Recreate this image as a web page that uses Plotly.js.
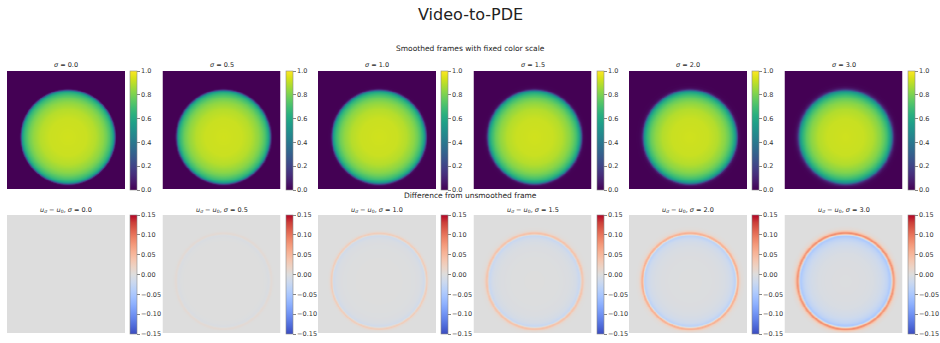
<!DOCTYPE html>
<html>
<head>
<meta charset="utf-8">
<script src="https://cdn.plot.ly/plotly-3.0.1.min.js"></script>
<style>
  html, body { margin: 0; padding: 0; background: #ffffff; }
  #fig { width: 940px; height: 343px; }
</style>
</head>
<body>
<div id="fig"></div>
<script>
// Smoothing widths shown in each column
const sigmas = [0.0, 0.5, 1.0, 1.5, 2.0, 3.0];

// Radial samples (frame pixels from the disk centre) used for the profiles below
const radiusPx = [0, 20, 30, 38, 42, 45, 47, 48, 49, 50, 51, 52, 53, 54, 56, 60];

// Intensity of the unsmoothed frame along the radius
const frameProfile = [0.93, 0.92, 0.89, 0.83, 0.78, 0.72, 0.67, 0.63, 0.57, 0.45, 0.22, 0.04, 0, 0, 0, 0];

// u_sigma - u_0 along the radius, one array per sigma
const diffSigma00 = [0, 0, 0, 0, 0, 0, 0, 0, 0, 0, 0, 0, 0, 0, 0, 0];
const diffSigma05 = [0, 0, 0, 0, 0, -0.001, -0.002, -0.003, -0.005, -0.002, 0.005, 0.008, 0.004, 0.001, 0, 0];
const diffSigma10 = [0, 0, -0.001, -0.002, -0.003, -0.005, -0.008, -0.011, -0.014, -0.004, 0.018, 0.028, 0.014, 0.004, 0, 0];
const diffSigma15 = [0, -0.001, -0.002, -0.004, -0.007, -0.01, -0.015, -0.02, -0.023, -0.008, 0.028, 0.042, 0.028, 0.01, 0.002, 0];
const diffSigma20 = [-0.001, -0.002, -0.003, -0.007, -0.011, -0.016, -0.023, -0.029, -0.032, -0.012, 0.038, 0.058, 0.043, 0.018, 0.004, 0];
const diffSigma30 = [-0.002, -0.003, -0.006, -0.013, -0.02, -0.028, -0.038, -0.046, -0.045, -0.012, 0.05, 0.085, 0.07, 0.035, 0.008, 0];
const diffProfiles = [diffSigma00, diffSigma05, diffSigma10, diffSigma15, diffSigma20, diffSigma30];

// Colour-bar tick labels
const frameTicks = [0.0, 0.2, 0.4, 0.6, 0.8, 1.0];
const diffTicks = [-0.15, -0.10, -0.05, 0.00, 0.05, 0.10, 0.15];

// Frame geometry (128 x 128 frame, sampled twice per pixel for display)
const FRAME = 128;
const SUB = 2;
const CX = 65.5, CY = 71;

// matplotlib "coolwarm"
const coolwarm = [
  [0.0, 'rgb(59,76,192)'], [0.0625, 'rgb(77,104,215)'], [0.125, 'rgb(98,130,234)'],
  [0.1875, 'rgb(119,154,247)'], [0.25, 'rgb(141,176,254)'], [0.3125, 'rgb(163,194,255)'],
  [0.375, 'rgb(184,208,249)'], [0.4375, 'rgb(204,217,238)'], [0.5, 'rgb(221,221,221)'],
  [0.5625, 'rgb(236,211,197)'], [0.625, 'rgb(245,196,173)'], [0.6875, 'rgb(247,177,148)'],
  [0.75, 'rgb(244,154,123)'], [0.8125, 'rgb(236,127,99)'], [0.875, 'rgb(222,96,77)'],
  [0.9375, 'rgb(203,62,56)'], [1.0, 'rgb(180,4,38)']
];

function interp(xs, ys, x) {
  if (x <= xs[0]) return ys[0];
  for (let k = 1; k < xs.length; k++) {
    if (x <= xs[k]) {
      const t = (x - xs[k - 1]) / (xs[k] - xs[k - 1]);
      return ys[k - 1] + t * (ys[k] - ys[k - 1]);
    }
  }
  return ys[ys.length - 1];
}

const N = FRAME * SUB;
const coords = [];
for (let k = 0; k < N; k++) coords.push((k + 0.5) / SUB - 0.5);

function radialImage(profile) {
  const z = [];
  for (let i = 0; i < N; i++) {
    const row = [];
    for (let j = 0; j < N; j++) {
      const r = Math.hypot(coords[j] - CX, coords[i] - CY);
      row.push(interp(radiusPx, profile, r));
    }
    z.push(row);
  }
  return z;
}

const W = 940, H = 343;
const colLeft = [7, 162.5, 318, 473.5, 629, 784.5];
const IMG = 118;
const topRowY = 71, botRowY = 215;
const FONT = 'DejaVu Sans, sans-serif';

const data = [];
const layout = {
  width: W, height: H,
  margin: {l: 0, r: 0, t: 0, b: 0},
  paper_bgcolor: '#ffffff', plot_bgcolor: '#ffffff',
  showlegend: false,
  annotations: []
};

function addPanel(idx, col, rowY, z, cscale, zmin, zmax, ticks, fmt) {
  const ax = idx === 1 ? '' : String(idx);
  const x0 = colLeft[col];
  layout['xaxis' + ax] = {
    domain: [x0 / W, (x0 + IMG) / W], range: [-0.5, FRAME - 0.5],
    showticklabels: false, showgrid: false, zeroline: false, ticks: '',
    anchor: 'y' + ax, fixedrange: true
  };
  layout['yaxis' + ax] = {
    domain: [1 - (rowY + IMG) / H, 1 - rowY / H], range: [FRAME - 0.5, -0.5],
    showticklabels: false, showgrid: false, zeroline: false, ticks: '',
    anchor: 'x' + ax, fixedrange: true
  };
  data.push({
    type: 'heatmap', z: z, x: coords, y: coords, xaxis: 'x' + ax, yaxis: 'y' + ax,
    colorscale: cscale, zmin: zmin, zmax: zmax, zsmooth: 'best',
    hoverinfo: 'skip',
    colorbar: {
      x: (x0 + IMG + 5) / W, xanchor: 'left', xpad: 0, ypad: 0,
      y: 1 - rowY / H, yanchor: 'top',
      thickness: 7, thicknessmode: 'pixels', len: IMG + 1, lenmode: 'pixels',
      outlinewidth: 0.6, outlinecolor: '#8a8a8a',
      ticks: 'outside', ticklen: 3, tickwidth: 0.6, tickcolor: '#333',
      tickvals: ticks, ticktext: ticks.map(v => (v < 0 ? '\u2212' : '') + Math.abs(v).toFixed(fmt)),
      tickfont: {family: FONT, size: 6.5, color: '#333'}
    }
  });
}

function addText(text, xPx, yPx, size) {
  layout.annotations.push({
    text: text, xref: 'paper', yref: 'paper', x: xPx / W, y: 1 - yPx / H,
    xanchor: 'center', yanchor: 'middle', showarrow: false,
    font: {family: FONT, size: size, color: '#222'}
  });
}

sigmas.forEach((s, c) => {
  const smoothed = frameProfile.map((v, k) => v + diffProfiles[c][k]);
  addPanel(c + 1, c, topRowY, radialImage(smoothed), 'Viridis', 0, 1, frameTicks, 1);
  addPanel(c + 7, c, botRowY, radialImage(diffProfiles[c]), coolwarm, -0.15, 0.15, diffTicks, 2);
  const cx = colLeft[c] + IMG / 2;
  addText('<i>σ</i> = ' + s.toFixed(1), cx, 65, 6.5);
  addText('<i>u</i><sub><i>σ</i></sub> − <i>u</i><sub>0</sub>, <i>σ</i> = ' + s.toFixed(1), cx, 210, 6.5);
});

addText('Video-to-PDE', 470, 14, 16);
addText('Smoothed frames with fixed color scale', 470, 48, 7.5);
addText('Difference from unsmoothed frame', 470, 195, 7.5);

Plotly.newPlot('fig', data, layout, {staticPlot: true, displayModeBar: false});
</script>
</body>
</html>
